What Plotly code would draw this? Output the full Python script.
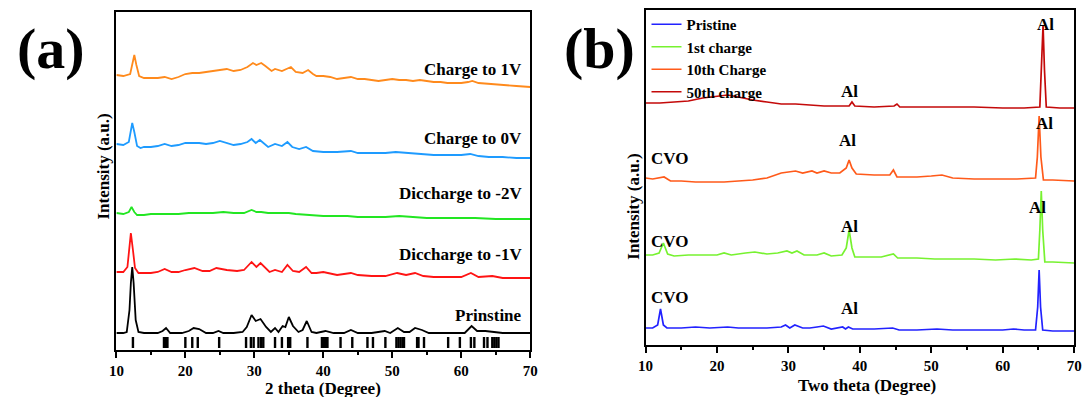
import plotly.graph_objects as go

# ---------------- Panel (a) data (2 theta, intensity a.u. incl. stacking) ----------------
a_charge1_x = [10, 11, 12, 12.3, 12.6, 12.9, 13.3, 14, 15, 16, 17, 18, 19, 20, 21, 22, 23, 24, 25, 26, 27, 28, 29,
               29.8, 30.3, 31, 31.6, 32.5, 33, 34, 35.3, 36, 37, 37.8, 38.5, 39, 40, 41, 42, 43, 44, 45, 46, 47, 48,
               49, 50, 51, 52, 53, 54, 55, 56, 57, 58, 59, 60, 61, 61.6, 62.5, 64, 66, 68, 70]
a_charge1_y = [275, 274, 276, 287, 295, 285, 274, 272, 272, 272, 273, 271, 273, 276, 277, 277, 278, 279, 280, 281,
               279, 280, 283, 287, 285, 287, 284, 279, 281, 279, 283, 278, 277, 280, 276, 274, 274, 273, 271, 272,
               273, 271, 271, 270, 269, 270, 271, 270, 270, 269, 270, 269, 268, 268, 267, 267, 267, 268, 269, 267,
               266, 265, 264, 263]

a_charge0_x = [10, 11, 11.8, 12.1, 12.3, 12.6, 13, 13.5, 14, 15, 16, 17, 18, 19, 20, 21, 22, 23, 24, 25, 26, 27, 28,
               29, 29.6, 30.2, 30.8, 31.5, 32, 33, 34, 34.8, 35.5, 36.5, 37.5, 38.5, 40, 42, 44, 45, 47, 49, 50.5,
               52, 54, 56, 58, 60, 61.3, 62.5, 64, 66, 68, 70]
a_charge0_y = [206, 205, 208, 222, 227, 218, 204, 202, 203, 203, 204, 206, 204, 205, 207, 207, 207, 206, 207, 209,
               207, 205, 206, 208, 211, 207, 210, 206, 203, 206, 204, 208, 203, 201, 203, 199, 198, 198, 199, 197,
               197, 197, 198, 197, 196, 195, 195, 195, 196, 194, 193, 193, 192, 192]

a_dis2_x = [10, 11, 11.8, 12.2, 12.6, 13, 14, 15, 17, 19, 20.5, 22, 24, 25.5, 27, 28.5, 29.6, 30.3, 31, 32, 33, 35,
            36, 37.5, 38.5, 40, 42, 43.5, 45, 47, 49, 51, 53, 55, 57, 60, 62, 65, 67, 70]
a_dis2_y = [137, 136, 138, 143, 138, 135, 135, 136, 136, 136, 137, 137, 137, 138, 137, 137, 140, 138, 138, 137, 137,
            137, 136, 135, 135, 134, 134, 134, 133, 133, 133, 134, 133, 132, 132, 132, 132, 131, 131, 131]

a_dis1_x = [10, 11, 11.6, 11.9, 12.1, 12.4, 12.7, 13.2, 14, 15, 16, 17, 18, 19, 20, 21.3, 22.5, 23.5, 24.5, 26,
            27.5, 28.5, 29.6, 30.3, 30.9, 31.5, 32.2, 33, 34, 34.8, 35.6, 36.5, 37.5, 38.3, 39, 40, 42, 44, 45, 47,
            49, 50.7, 52, 53.3, 54.5, 56, 58, 60, 61.4, 62.5, 64.5, 66, 68, 70]
a_dis1_y = [78, 78, 83, 103, 117, 100, 82, 77, 77, 77, 78, 81, 78, 78, 80, 82, 79, 79, 82, 80, 79, 80, 88, 83, 87,
            83, 78, 80, 78, 85, 79, 78, 83, 77, 77, 78, 75, 77, 75, 74, 74, 77, 75, 77, 74, 73, 73, 73, 77, 73, 74,
            72, 72, 72]

a_pristine_x = [10, 11, 11.5, 11.9, 12.1, 12.3, 12.5, 12.8, 13.2, 14, 16, 16.7, 17.2, 17.8, 19.5, 20.5, 21.2, 22,
                23, 24, 24.8, 25.5, 27, 28.3, 28.9, 29.6, 30.2, 30.9, 31.7, 32.4, 33, 33.5, 34.1, 34.5, 35, 35.6,
                36.4, 37, 37.6, 38.3, 39, 40.3, 41.5, 43, 44, 45, 47, 48.9, 49.7, 50.8, 51.7, 52.5, 53.3, 54.3,
                55.3, 57, 59, 60.5, 61.5, 62.3, 63.5, 65, 66, 68, 70]
a_pristine_y = [17, 17, 18, 40, 67, 83, 67, 30, 18, 17, 17, 19, 22, 17, 17, 19, 22, 21, 17, 17, 19, 17, 17, 18, 23,
                35, 29, 31, 23, 18, 22, 18, 24, 23, 33, 24, 18, 20, 29, 18, 17, 19, 17, 17, 20, 17, 17, 19, 17, 22,
                18, 18, 22, 20, 17, 17, 17, 17, 24, 19, 19, 18, 17, 17, 17]

# Reference (standard card) line positions, and bar span
ref_positions = [12.4, 16.9, 17.2, 17.4, 20.0, 21.0, 21.8, 24.9, 28.8, 29.5, 29.9, 30.6, 31.0, 31.3, 33.0, 34.0,
                 34.9, 35.2, 37.7, 39.8, 40.1, 40.4, 40.6, 42.5, 44.2, 46.4, 47.2, 49.0, 50.6, 50.9, 51.2, 51.5,
                 51.7, 53.6, 53.8, 54.6, 58.1, 59.8, 61.4, 61.9, 63.3, 63.8, 64.5, 64.8, 65.1, 65.4]
ref_bottom, ref_top = 2, 13

a_labels = ["Charge to 1V", "Charge to 0V", "Diccharge to -2V", "Diccharge to -1V", "Prinstine"]
a_label_y = [280, 211, 156, 95, 35]

# ---------------- Panel (b) data ----------------
b_pristine_x = [10, 11, 11.7, 12.1, 12.5, 13, 15, 17, 19, 21.5, 23, 25, 27, 29, 29.6, 30.2, 30.9, 32, 33, 34, 34.9,
                36, 37.6, 38, 38.4, 39, 42, 44.6, 45.5, 48, 50.8, 53, 55, 58, 60, 61.5, 63, 64.6, 64.9, 65.1, 65.3,
                65.6, 67, 70]
b_pristine_y = [17, 17, 20, 36, 20, 17, 17, 18, 17, 18, 17, 17, 17, 18, 20, 17, 20, 17, 17, 18, 19, 16, 18, 16, 18,
                16, 16, 17, 15, 15, 16, 15, 15, 15, 15, 16, 15, 15, 38, 75, 38, 15, 14, 14]

b_first_x = [10, 11, 11.9, 12.5, 13.1, 14, 16, 18, 20, 21, 22, 24, 25.3, 27, 28.5, 29.8, 30.5, 31.2, 32.2, 34, 35,
             36, 37.5, 38.1, 38.5, 38.9, 39.3, 41, 43, 44.7, 45.3, 48, 50.5, 53, 56, 59, 61.7, 64, 65.0, 65.2, 65.4,
             65.6, 65.9, 67, 70]
b_first_y = [90, 90, 92, 102, 91, 89, 90, 90, 90, 92, 90, 92, 93, 91, 92, 94, 92, 94, 90, 90, 92, 89, 90, 97, 115,
             97, 88, 88, 88, 91, 87, 87, 86, 86, 86, 85, 86, 85, 86, 115, 154, 115, 83, 83, 82]

b_tenth_x = [10, 11, 12.6, 13.5, 15, 17, 19, 21, 23, 25, 27, 29, 31, 32, 33.3, 34, 35, 36, 37.2, 38.1, 38.5, 38.9,
             39.5, 42, 44.2, 44.7, 45.2, 48, 50, 51.5, 53, 56, 60, 62, 64.6, 64.85, 65.1, 65.35, 65.7, 67, 70]
b_tenth_y = [167, 166, 168, 164, 164, 163, 163, 163, 164, 165, 167, 172, 174, 172, 174, 172, 174, 172, 172, 177,
             185, 177, 171, 170, 170, 175, 168, 168, 169, 170, 167, 166, 166, 166, 167, 188, 229, 188, 165, 165, 164]

b_fiftieth_x = [10, 12, 14, 16, 18, 20, 21.5, 23, 25, 27, 29, 31, 33, 35, 37, 38.5, 38.9, 39.3, 42, 44.8, 45.2,
                45.6, 48, 52, 56, 60, 63, 65.2, 65.45, 65.65, 65.85, 66.1, 68, 70]
b_fiftieth_y = [242, 242, 243, 244, 247, 249, 250, 248, 245, 243, 241, 241, 240, 239, 239, 239, 243, 239, 238, 239,
                241, 238, 238, 238, 238, 237, 237, 238, 275, 320, 275, 238, 237, 237]

b_names = ["Pristine", "1st charge", "10th Charge", "50th charge"]

b_notes = ["Al", "Al", "Al", "Al", "CVO", "Al", "Al", "CVO", "CVO", "Al"]
b_notes_x = [66.0, 38.55, 65.86, 38.3, 13.3, 64.9, 38.55, 13.3, 13.3, 38.55]
b_notes_y = [321, 254, 222, 205, 187, 138, 119, 104, 48, 37]

x_ticks = [10, 20, 30, 40, 50, 60, 70]

# ---------------- Figure ----------------
SERIF = "Liberation Serif, Times New Roman, Times, serif"
W, H = 1091, 397

a_colors = ["#FF8A1C", "#1E9BFF", "#22E622", "#FF1414", "#000000"]
b_colors = ["#2222FF", "#77F230", "#FF5A1A", "#C40A0A"]

fig = go.Figure()

a_series = [(a_charge1_x, a_charge1_y), (a_charge0_x, a_charge0_y), (a_dis2_x, a_dis2_y),
            (a_dis1_x, a_dis1_y), (a_pristine_x, a_pristine_y)]
for (xs, ys), name, col in zip(a_series, a_labels, a_colors):
    fig.add_trace(go.Scatter(x=xs, y=ys, mode="lines", name=name, showlegend=False,
                             line=dict(color=col, width=1.8), xaxis="x", yaxis="y"))

# reference bars
rx, ry = [], []
for p in ref_positions:
    rx += [p, p, None]
    ry += [ref_bottom, ref_top, None]
fig.add_trace(go.Scatter(x=rx, y=ry, mode="lines", showlegend=False,
                         line=dict(color="black", width=2.4), xaxis="x", yaxis="y"))

b_series = [(b_pristine_x, b_pristine_y), (b_first_x, b_first_y), (b_tenth_x, b_tenth_y),
            (b_fiftieth_x, b_fiftieth_y)]
for (xs, ys), name, col in zip(b_series, b_names, b_colors):
    fig.add_trace(go.Scatter(x=xs, y=ys, mode="lines", name=name,
                             line=dict(color=col, width=1.7), xaxis="x2", yaxis="y2"))

# plot-area pixel boxes
ax_a = (110, 530, 12, 350)
ax_b = (647, 1082, 10, 345)

def xd(l, r):
    return [l / W, r / W]

def yd(t, b):
    return [1 - b / H, 1 - t / H]

axis_common = dict(showline=True, linecolor="black", linewidth=2, mirror=True, showgrid=False,
                   zeroline=False)
xaxis_common = dict(axis_common, range=[10, 70], tickvals=x_ticks, ticks="outside", ticklen=6,
                    tickwidth=2, tickcolor="black",
                    minor=dict(ticks="outside", ticklen=3, tickwidth=1.5, dtick=5, tick0=10, tickcolor="black"),
                    tickfont=dict(family=SERIF, size=15, color="black", weight="bold"))
yaxis_common = dict(axis_common, showticklabels=False, ticks="")

fig.update_layout(
    width=W, height=H, margin=dict(l=0, r=0, t=0, b=0),
    paper_bgcolor="white", plot_bgcolor="white",
    font=dict(family=SERIF),
    xaxis=dict(xaxis_common, domain=xd(ax_a[0], ax_a[1]), anchor="y"),
    yaxis=dict(yaxis_common, domain=yd(ax_a[2], ax_a[3]), range=[0, ax_a[3] - ax_a[2]], anchor="x"),
    xaxis2=dict(xaxis_common, domain=xd(ax_b[0], ax_b[1]), anchor="y2"),
    yaxis2=dict(yaxis_common, domain=yd(ax_b[2], ax_b[3]), range=[0, ax_b[3] - ax_b[2]], anchor="x2"),
    legend=dict(x=648 / W, y=1 - 8 / H, xanchor="left", yanchor="top", bgcolor="rgba(0,0,0,0)",
                font=dict(family=SERIF, size=15, color="black", weight="bold"),
                tracegroupgap=0, itemwidth=30),
    showlegend=True,
)

ann = []
for t, yv in zip(a_labels, a_label_y):
    ann.append(dict(x=69.1, y=yv, xref="x", yref="y", text=t, showarrow=False, xanchor="right",
                    yanchor="middle", font=dict(family=SERIF, size=17, color="black", weight="bold")))
for t, xv, yv in zip(b_notes, b_notes_x, b_notes_y):
    ann.append(dict(x=xv, y=yv, xref="x2", yref="y2", text=t, showarrow=False, xanchor="center",
                    yanchor="middle", font=dict(family=SERIF, size=17, color="black", weight="bold")))

def paper(px, py):
    return px / W, 1 - py / H

for t, (px, py) in [("(a)", (44, 48)), ("(b)", (600, 48))]:
    x, y = paper(px, py)
    ann.append(dict(x=x, y=y, xref="paper", yref="paper", text=t, showarrow=False, xanchor="center",
                    yanchor="middle", font=dict(family=SERIF, size=58, color="black", weight="bold")))
for t, (px, py) in [("Intensity (a.u.)", (96, 167)), ("Intensity (a.u.)", (634, 207))]:
    x, y = paper(px, py)
    ann.append(dict(x=x, y=y, xref="paper", yref="paper", text=t, showarrow=False, textangle=-90,
                    xanchor="center", yanchor="middle",
                    font=dict(family=SERIF, size=17, color="black", weight="bold")))
for t, (px, py) in [("2 theta (Degree)", (320, 388)), ("Two theta (Degree)", (872, 385))]:
    x, y = paper(px, py)
    ann.append(dict(x=x, y=y, xref="paper", yref="paper", text=t, showarrow=False, xanchor="center",
                    yanchor="middle", font=dict(family=SERIF, size=17, color="black", weight="bold")))
fig.update_layout(annotations=ann)

fig.write_html("out.html")
